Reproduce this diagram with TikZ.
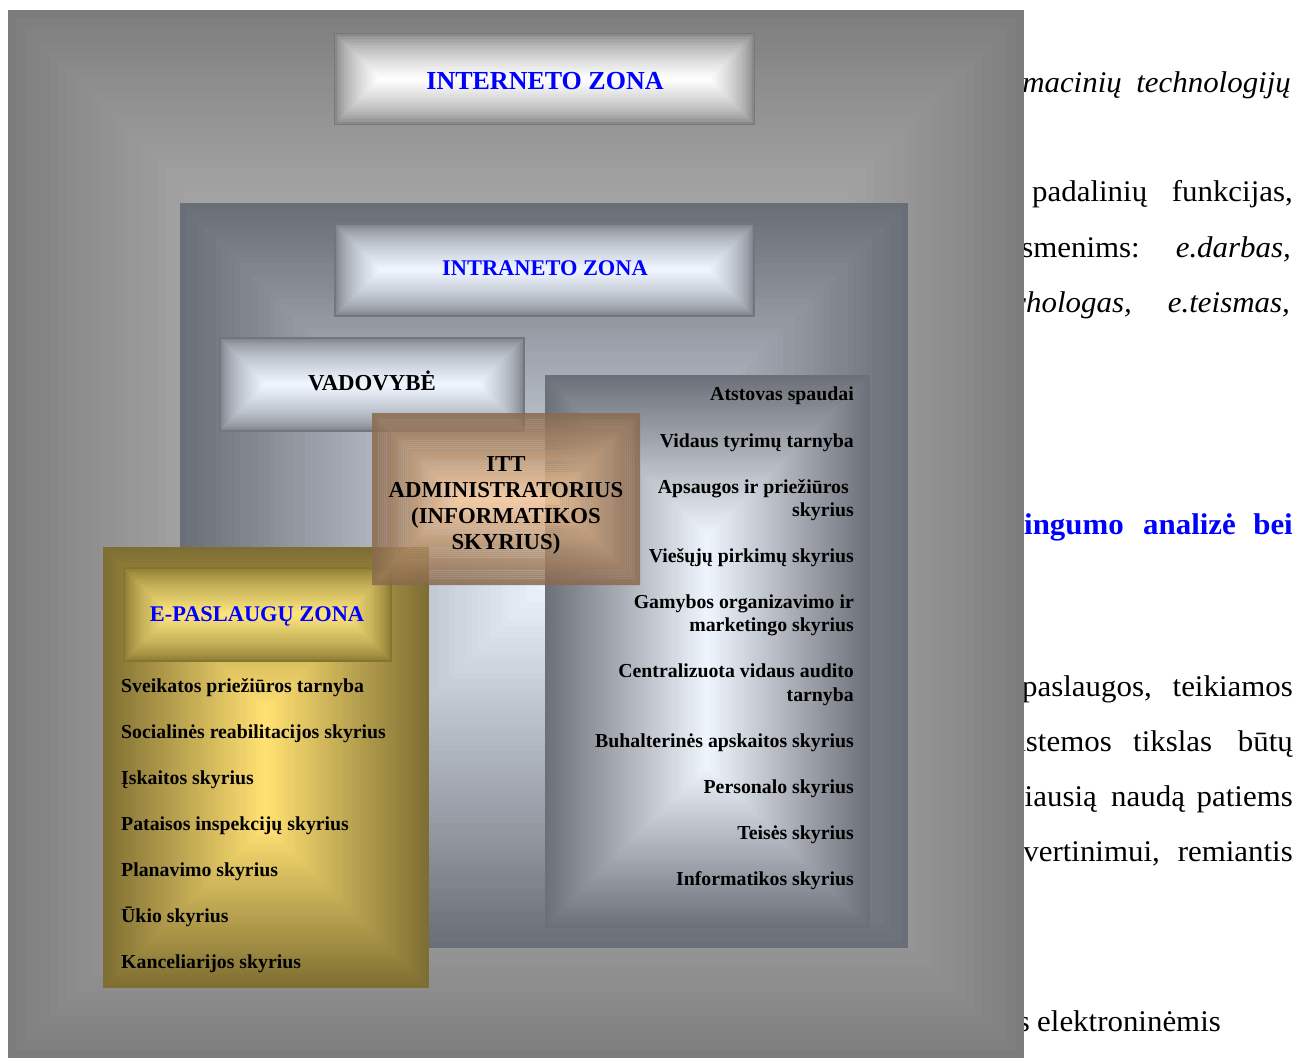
\documentclass[tikz,border=0pt]{standalone}
\usepackage{fontspec}
\setmainfont{Liberation Serif}
\newfontfamily\bodyfont[FakeStretch=1.03]{Liberation Serif}

\definecolor{outE}{HTML}{7C7C7C}\definecolor{outC}{HTML}{D8D8D8}
\definecolor{btnE}{HTML}{787878}\definecolor{btnC}{HTML}{FFFFFF}
\definecolor{intE}{HTML}{6A6E76}\definecolor{intC}{HTML}{EAF2FC}
\definecolor{ibE}{HTML}{72767E}\definecolor{ibC}{HTML}{EEF5FF}
\definecolor{panE}{HTML}{6C7078}\definecolor{panC}{HTML}{EEF4FC}
\definecolor{goldE}{HTML}{7E6E32}\definecolor{goldC}{HTML}{FFE072}
\definecolor{gbE}{HTML}{85752F}\definecolor{gbC}{HTML}{FCE47C}
\definecolor{ittE}{HTML}{8A6A4E}\definecolor{ittC}{HTML}{F8C898}
\definecolor{zoneblue}{HTML}{0000FF}

\newcommand{\gbgamma}{1}
% rectangular (path) gradient: x1 y1 x2 y2 outer inner steps
\newcommand{\gbox}[7]{%
  \pgfmathsetmacro{\gbs}{min(#3-#1,#4-#2)/2/(#7+1)}%
  \foreach \gi in {0,...,#7}{%
    \pgfmathsetmacro{\gbd}{\gbs*\gi}%
    \pgfmathtruncatemacro{\gbp}{round(100*pow(max(\gi,0.001)/#7,\gbgamma))}%
    \fill[#6!\gbp!#5] ({#1+\gbd},{#2+\gbd}) rectangle ({#3-\gbd},{#4-\gbd});
  }}
% same, drawn as rings so that it can be see-through
\newcommand{\gboxo}[8]{%
  \pgfmathsetmacro{\gbs}{min(#3-#1,#4-#2)/2/(#7+1)}%
  \foreach \gi in {0,...,#7}{%
    \pgfmathsetmacro{\gbd}{\gbs*\gi}%
    \pgfmathsetmacro{\gbe}{\gbs*(\gi+1)}%
    \pgfmathtruncatemacro{\gbp}{round(100*pow(max(\gi,0.001)/#7,\gbgamma))}%
    \ifnum\gi<#7\relax
      \fill[#6!\gbp!#5, even odd rule, fill opacity=#8]
        ({#1+\gbd},{#2+\gbd}) rectangle ({#3-\gbd},{#4-\gbd})
        ({#1+\gbe},{#2+\gbe}) rectangle ({#3-\gbe},{#4-\gbe});
    \else
      \fill[#6!\gbp!#5, fill opacity=#8]
        ({#1+\gbd},{#2+\gbd}) rectangle ({#3-\gbd},{#4-\gbd});
    \fi
  }}

\tikzset{
  body/.style={font=\bodyfont\fontsize{30}{36}\selectfont, inner sep=0},
  bodyit/.style={font=\bodyfont\itshape\fontsize{30}{36}\selectfont, inner sep=0},
  bodyhd/.style={font=\bodyfont\bfseries\fontsize{30}{36}\selectfont, inner sep=0, text=zoneblue},
  zonetitle/.style={font=\bfseries, text=zoneblue, inner sep=0, anchor=base},
  boxtitle/.style={font=\bfseries\fontsize{22.8}{26}\selectfont, inner sep=0, anchor=base},
  ptext/.style={font=\bfseries\fontsize{19.8}{23}\selectfont, inner sep=0, anchor=base east},
  gtext/.style={font=\bfseries\fontsize{19.8}{23}\selectfont, inner sep=0, anchor=base west},
}

\begin{document}
\begin{tikzpicture}[x=1pt,y=-1pt]
\useasboundingbox (0,0) rectangle (1295,1061);
\fill[white] (0,0) rectangle (1295,1061);

% ---- page text behind the diagram
\node[bodyit, anchor=base east] (t1a) at (1122,92) {informacinių};
\node[bodyit, anchor=base east] (t1b) at (1291,92) {technologijų};
\node[body, anchor=base west]   (t2a) at (1032,201) {padalinių};
\node[body, anchor=base east]   (t2b) at (1293,201) {funkcijas,};
\node[body, anchor=base east]   (t3a) at (1140,257) {asmenims:};
\node[bodyit, anchor=base east] (t3b) at (1291,257) {e.darbas,};
\node[bodyit, anchor=base east] (t4a) at (1132,312) {e.psichologas,};
\node[bodyit, anchor=base east] (t4b) at (1290,312) {e.teismas,};
\node[bodyhd, anchor=base east] (t5a) at (1124,534) {naudingumo};
\node[bodyhd, anchor=base west] (t5b) at (1143,534) {analizė};
\node[bodyhd, anchor=base east] (t5c) at (1293,534) {bei};
\node[body, anchor=base west]   (t6a) at (1022,696) {paslaugos,};
\node[body, anchor=base east]   (t6b) at (1293,696) {teikiamos};
\node[body, anchor=base east]   (t7a) at (1112,751) {sistemos};
\node[body, anchor=base west]   (t7b) at (1133,751) {tikslas};
\node[body, anchor=base east]   (t7c) at (1293,751) {būtų};
\node[body, anchor=base east]   (t8a) at (1097,806) {didžiausią};
\node[body, anchor=base west]   (t8b) at (1111,806) {naudą};
\node[body, anchor=base east]   (t8c) at (1293,806) {patiems};
\node[body, anchor=base east]   (t9a) at (1160,861) {įvertinimui,};
\node[body, anchor=base east]   (t9b) at (1293,861) {remiantis};
\node[body, anchor=base east]   (t10a) at (1030,1031) {specializuotomis};
\node[body, anchor=base west]   (t10b) at (1037,1031) {elektroninėmis};

% ---- zones
\renewcommand{\gbgamma}{0.85}
\gbox{8}{10}{1024}{1058}{outE}{outC}{60}
\renewcommand{\gbgamma}{0.6}
\gbox{334}{33}{755}{125}{btnE}{btnC}{30}
\renewcommand{\gbgamma}{1}
\gbox{180}{203}{908}{948}{intE}{intC}{60}
\renewcommand{\gbgamma}{0.6}
\gbox{334}{223}{755}{317}{ibE}{ibC}{30}
\gbox{219}{337}{525}{432}{ibE}{ibC}{30}
\renewcommand{\gbgamma}{1}
\gbox{545}{375}{870}{928}{panE}{panC}{50}
\gbox{103}{547}{429}{988}{goldE}{goldC}{50}
\renewcommand{\gbgamma}{0.7}
\gbox{123}{567}{392}{662}{gbE}{gbC}{30}
\renewcommand{\gbgamma}{1.1}
\gboxo{372}{413}{640}{585}{ittE}{ittC}{40}{0.85}

% ---- titles
\node[zonetitle, font=\bfseries\fontsize{26}{30}\selectfont] (internet) at (545,89) {INTERNETO ZONA};
\node[zonetitle, font=\bfseries\fontsize{22.4}{26}\selectfont] (intranet) at (545,275.5) {INTRANETO ZONA};
\node[boxtitle] (vadovybe) at (372,390.5) {VADOVYBĖ};
\node[zonetitle, font=\bfseries\fontsize{22.4}{26}\selectfont] (epaslaugos) at (257,621.5) {E-PASLAUGŲ ZONA};
\node[boxtitle] (itt1) at (506,471.5) {ITT};
\node[boxtitle] (itt2) at (506,497.5) {ADMINISTRATORIUS};
\node[boxtitle] (itt3) at (506,523.5) {(INFORMATIKOS};
\node[boxtitle] (itt4) at (506,549.5) {SKYRIUS)};

% ---- intranet departments
\node[ptext] (p1)  at (854,400) {Atstovas spaudai};
\node[ptext] (p2)  at (854,447) {Vidaus tyrimų tarnyba};
\node[ptext] (p3a) at (849,493) {Apsaugos ir priežiūros};
\node[ptext] (p3b) at (854,516) {skyrius};
\node[ptext] (p4)  at (854,562) {Viešųjų pirkimų skyrius};
\node[ptext] (p5a) at (854,608) {Gamybos organizavimo ir};
\node[ptext] (p5b) at (854,631) {marketingo skyrius};
\node[ptext] (p6a) at (854,677) {Centralizuota vidaus audito};
\node[ptext] (p6b) at (854,701) {tarnyba};
\node[ptext] (p7)  at (854,747) {Buhalterinės apskaitos skyrius};
\node[ptext] (p8)  at (854,793) {Personalo skyrius};
\node[ptext] (p9)  at (854,839) {Teisės skyrius};
\node[ptext] (p10) at (854,885) {Informatikos skyrius};

% ---- e-services departments
\node[gtext] (g1) at (121,692) {Sveikatos priežiūros tarnyba};
\node[gtext] (g2) at (121,738) {Socialinės reabilitacijos skyrius};
\node[gtext] (g3) at (121,784) {Įskaitos skyrius};
\node[gtext] (g4) at (121,830) {Pataisos inspekcijų skyrius};
\node[gtext] (g5) at (121,876) {Planavimo skyrius};
\node[gtext] (g6) at (121,922) {Ūkio skyrius};
\node[gtext] (g7) at (121,968) {Kanceliarijos skyrius};
\end{tikzpicture}
\end{document}
